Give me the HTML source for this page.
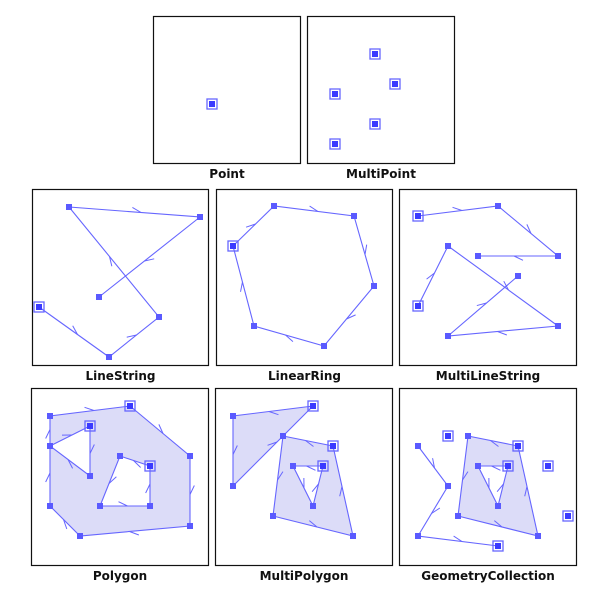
<!DOCTYPE html>
<html><head><meta charset="utf-8"><style>
html,body{margin:0;padding:0;background:#fff;width:614px;height:599px;overflow:hidden}
svg{display:block}
text{font-family:"DejaVu Sans","Liberation Sans",sans-serif;font-weight:bold;font-size:12px;fill:#111}
</style></head><body>
<svg id="chart" width="614" height="599" xmlns="http://www.w3.org/2000/svg"></svg>
<script>
const panelNames = ["Point","MultiPoint","LineString","LinearRing","MultiLineString","Polygon","MultiPolygon","GeometryCollection"];
const panelBoxes = [[153,16,147,147],[307,16,147,147],[32,189,176,176],[216,189,176,176],[399,189,177,176],[31,388,177,177],[215,388,177,177],[399,388,177,177]];
const pointData = [[212,104]];
const multiPointData = [[375,54],[395,84],[335,94],[375,124],[335,144]];
const lineStringData = [[39,307],[109,357],[159,317],[69,207],[200,217],[99,297]];
const linearRingData = [[233,246],[274,206],[354,216],[374,286],[324,346],[254,326],[233,246]];
const multiLineData = [[[418,216],[498,206],[558,256],[478,256]],[[418,306],[448,246],[558,326],[448,336],[518,276]]];
const polygonData = [[[130,406],[190,456],[190,526],[80,536],[50,506],[50,446],[50,416],[130,406]],[[90,426],[90,476],[50,446],[90,426]],[[150,466],[120,456],[100,506],[150,506],[150,466]]];
const multiPolyData = [[[[313,406],[233,416],[233,486],[313,406]]],[[[333,446],[283,436],[273,516],[353,536],[333,446]],[[323,466],[293,466],[313,506],[323,466]]]];
const gcPoints = [[448,436],[548,466],[568,516],[498,546]];
const gcPolygon = [[[518,446],[468,436],[458,516],[538,536],[518,446]],[[508,466],[478,466],[498,506],[508,466]]];
const gcLine = [[418,446],[448,486],[418,536],[498,546]];

const NS="http://www.w3.org/2000/svg";
const svg=document.getElementById('chart');
const LC="#6666ff";
function mk(tag,attrs,parent){const e=document.createElementNS(NS,tag);for(const k in attrs)e.setAttribute(k,attrs[k]);(parent||svg).appendChild(e);return e;}

panelBoxes.forEach((b,i)=>{
  const r=mk('rect',{x:b[0]+0.5,y:b[1]+0.5,width:b[2],height:b[3],fill:'#fff',stroke:'#111','stroke-width':1.2});
  
  
  const t=mk('text',{x:b[0]+b[2]/2+0.5,y:b[1]+b[3]+15,'text-anchor':'middle'});
  t.textContent=panelNames[i];
  
  
});

function vert(p,start,name){
  if(start){
    const o=mk('rect',{x:p[0]-5,y:p[1]-5,width:10,height:10,fill:'none',stroke:LC,'stroke-width':1.3});
    
    
  }
  const v=mk('rect',{x:p[0]-3,y:p[1]-3,width:6,height:6,fill:start?'#3a3aff':'#5a5aff'});
  
  
}
function barbs(pts,name){
  for(let i=0;i<pts.length-1;i++){
    const a=pts[i],b=pts[i+1];const dx=b[0]-a[0],dy=b[1]-a[1];const L=Math.hypot(dx,dy);if(L<1)continue;
    const mx=a[0]+dx*0.55,my=a[1]+dy*0.55;const ux=dx/L,uy=dy/L;
    const ang=0.45;const bx=-(ux*Math.cos(ang)-uy*Math.sin(ang)),by=-(ux*Math.sin(ang)+uy*Math.cos(ang));
    const l=mk('line',{x1:mx,y1:my,x2:mx+bx*10,y2:my+by*10,stroke:LC,'stroke-width':1});
    
    
  }
}
function line(pts,name,boxStart){
  const p=mk('polyline',{points:pts.map(q=>q.join(',')).join(' '),fill:'none',stroke:LC,'stroke-width':1.1});
  
  
  barbs(pts,name);
  pts.forEach((q,i)=>{ if(!(i===pts.length-1&&q[0]===pts[0][0]&&q[1]===pts[0][1])) vert(q,boxStart&&i===0,name); });
}
function poly(rings,name){
  const d=rings.map(r=>'M'+r.map(q=>q.join(',')).join('L')+'Z').join(' ');
  const p=mk('path',{d:d,fill:'#dcdcf8','fill-rule':'evenodd',stroke:'none'});
  
  
  rings.forEach((r,i)=>line(r,name+(i?'-hole':'-outer'),true));
}

pointData.forEach(p=>vert(p,true,'point'));
multiPointData.forEach(p=>vert(p,true,'multipoint'));
line(lineStringData,'linestring',true);
line(linearRingData,'linearring',true);
multiLineData.forEach(l=>line(l,'multilinestring',true));
poly(polygonData,'polygon');
multiPolyData.forEach(pg=>poly(pg,'multipolygon'));
poly(gcPolygon,'gc-polygon');
line(gcLine,'gc-line',false);
gcPoints.forEach(p=>vert(p,true,'gc-point'));
</script>
</body></html>
